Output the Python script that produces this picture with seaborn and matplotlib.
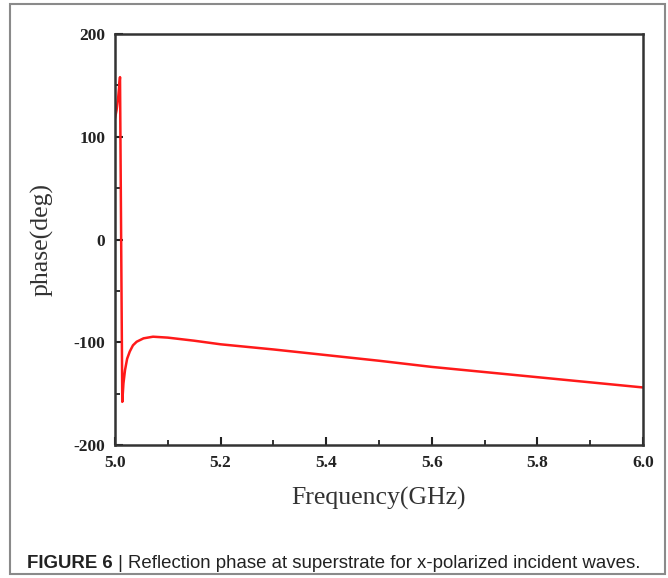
import matplotlib
matplotlib.use("Agg")
import matplotlib.pyplot as plt
import seaborn as sns
import pandas as pd
from matplotlib.patches import Rectangle
from matplotlib.ticker import MultipleLocator

# values
freq = [5.000, 5.003, 5.006, 5.0095, 5.0138, 5.016, 5.019, 5.023, 5.028,
        5.034, 5.041, 5.054, 5.072, 5.10, 5.15, 5.20, 5.30, 5.40,
        5.50, 5.60, 5.70, 5.80, 5.90, 6.00]
phase = [118, 126, 138, 158, -158, -140, -127, -116, -109,
         -103, -99.5, -96.2, -94.6, -95.5, -98.5, -102, -107, -112.5,
         -118, -124, -129, -134, -139, -144]

xticks = [5.0, 5.2, 5.4, 5.6, 5.8, 6.0]
yticks = [-200, -100, 0, 100, 200]

df = pd.DataFrame({"freq": freq, "phase": phase})

sns.set_style("white")
plt.rcParams["font.family"] = ["Liberation Serif", "DejaVu Serif"]

fig = plt.figure(figsize=(6.68, 5.78), dpi=100)
ax = fig.add_axes([115 / 668, 133 / 578, 528 / 668, 411 / 578])

sns.lineplot(data=df, x="freq", y="phase", color="#ff1a1a", linewidth=1.8,
             ax=ax, sort=False, estimator=None)

ax.set_xlim(5.0, 6.0)
ax.set_ylim(-200, 200)
ax.set_xticks(xticks)
ax.set_yticks(yticks)
ax.set_xticklabels([f"{t:.1f}" for t in xticks])
ax.set_yticklabels([str(t) for t in yticks])
ax.xaxis.set_minor_locator(MultipleLocator(0.1))
ax.yaxis.set_minor_locator(MultipleLocator(50))

ax.tick_params(which="major", direction="in", length=6, width=1.5,
               pad=7, labelsize=12.5, colors="#222222",
               bottom=True, left=True, top=False, right=False)
ax.tick_params(which="minor", direction="in", length=3.5, width=1.3,
               bottom=True, left=True, top=False, right=False,
               colors="#222222")
for lab in ax.get_xticklabels() + ax.get_yticklabels():
    lab.set_fontweight("bold")

for s in ax.spines.values():
    s.set_linewidth(1.8)
    s.set_color("#333333")

ax.set_xlabel("Frequency(GHz)", fontsize=18.5, color="#333333", labelpad=12)
ax.set_ylabel("phase(deg)", fontsize=18.5, color="#333333", labelpad=14)

# outer frame and caption
fig.patches.append(Rectangle((10 / 668, 4 / 578), 655 / 668, 570 / 578,
                             transform=fig.transFigure, fill=False,
                             edgecolor="#8a8a8a", linewidth=1.5))
t1 = fig.text(27 / 668, 1 - 563 / 578, "FIGURE 6", fontsize=13.4,
              fontweight="bold", family="Liberation Sans", color="#222222",
              va="center", ha="left")
ax.annotate(" | Reflection phase at superstrate for x-polarized incident waves.",
            xy=(1, 0.5), xycoords=t1, va="center", ha="left",
            fontsize=13.4, family="Liberation Sans", color="#222222",
            annotation_clip=False)

fig.savefig("out.png", dpi=100)
